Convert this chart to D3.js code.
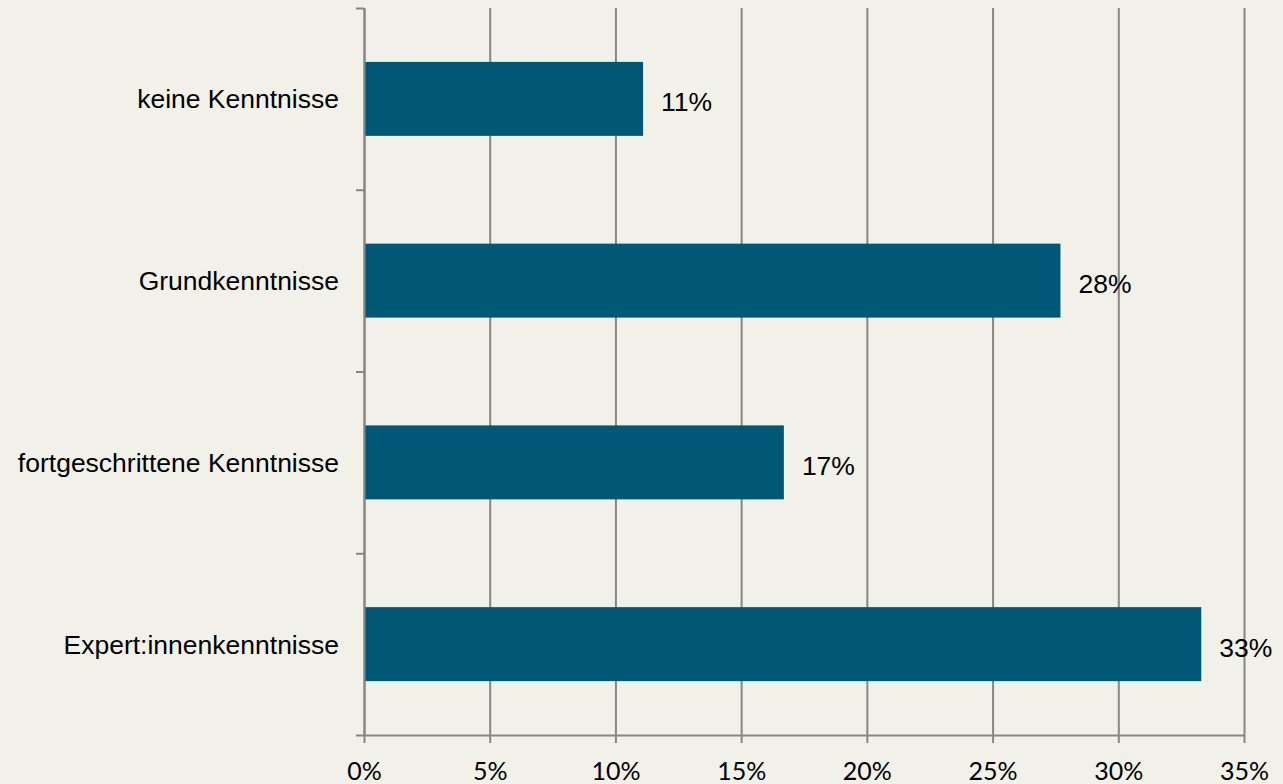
<!DOCTYPE html>
<html>
<head>
<meta charset="utf-8">
<script src="https://cdn.jsdelivr.net/npm/d3@7"></script>
<style>
  html, body { margin: 0; padding: 0; background: #f1f1e9; }
  svg { display: block; }
</style>
</head>
<body>
<div id="chart"></div>
<script>
// Kenntnisse - horizontal bar chart

var categories = ["keine Kenntnisse", "Grundkenntnisse", "fortgeschrittene Kenntnisse", "Expert:innenkenntnisse"];
var values = [11.1, 27.7, 16.7, 33.3];
var tickValues = [0, 5, 10, 15, 20, 25, 30, 35];

var svgWidth = 1283;
var svgHeight = 784;

var plot = { left: 364, right: 1244, top: 8, bottom: 735 };

var svg = d3.select("#chart")
  .append("svg")
  .attr("width", svgWidth)
  .attr("height", svgHeight);

svg.append("rect")
  .attr("width", svgWidth)
  .attr("height", svgHeight)
  .attr("fill", "#f1f1e9");

var xScale = d3.scaleLinear()
  .domain([0, 35])
  .range([plot.left, plot.right]);

var yScale = d3.scaleBand()
  .domain(categories)
  .range([plot.top, plot.bottom])
  .paddingInner(0.593)
  .paddingOuter(0.2965);

// category boundaries for the tick marks on the left axis
var yEdge = d3.scaleLinear()
  .domain([0, categories.length])
  .range([plot.top, plot.bottom]);

var gridColor = "#868686";

// vertical gridlines
var grid = svg.append("g")
  .attr("transform", `translate(0, ${plot.bottom})`)
  .call(d3.axisBottom(xScale).tickValues(tickValues).tickSize(-(plot.bottom - plot.top)).tickFormat(""));
grid.select(".domain").remove();
grid.selectAll("line").attr("stroke", gridColor).attr("stroke-width", 2);

// bars
svg.append("g")
  .selectAll("rect")
  .data(values)
  .enter()
  .append("rect")
  .attr("x", xScale(0) + 1)
  .attr("y", function(d, i) { return yScale(categories[i]); })
  .attr("width", function(d) { return xScale(d) - xScale(0) - 1; })
  .attr("height", yScale.bandwidth())
  .attr("fill", "#015876");

// x axis
var xAxis = svg.append("g")
  .attr("transform", `translate(0, ${plot.bottom})`)
  .call(d3.axisBottom(xScale).tickValues(tickValues).tickSize(8).tickSizeOuter(0)
    .tickFormat(function(d) { return d + "%"; }));
xAxis.select(".domain").attr("stroke", gridColor).attr("stroke-width", 2);
xAxis.selectAll("line").attr("stroke", gridColor).attr("stroke-width", 2);
xAxis.selectAll("text")
  .attr("y", 45)
  .attr("dy", null)
  .attr("fill", "#000")
  .attr("font-family", "Lato, 'Open Sans', sans-serif")
  .attr("font-size", "25px");

// y axis (ticks between categories)
var yAxis = svg.append("g")
  .attr("transform", `translate(${plot.left}, 0)`)
  .call(d3.axisLeft(yEdge).ticks(categories.length).tickSize(8).tickSizeOuter(0).tickFormat(""));
yAxis.select(".domain").attr("stroke", gridColor).attr("stroke-width", 2);
yAxis.selectAll("line").attr("stroke", gridColor).attr("stroke-width", 2);

// category labels
svg.append("g")
  .selectAll("text")
  .data(categories)
  .enter()
  .append("text")
  .attr("x", plot.left - 25)
  .attr("y", function(d) { return yScale(d) + yScale.bandwidth() / 2 + 9.5; })
  .attr("text-anchor", "end")
  .attr("font-family", "'Liberation Sans', Arial, sans-serif")
  .attr("font-size", "26.5px")
  .attr("fill", "#000")
  .text(function(d) { return d; });

// value labels
svg.append("g")
  .selectAll("text")
  .data(values)
  .enter()
  .append("text")
  .attr("x", function(d) { return xScale(d) + 18; })
  .attr("y", function(d, i) { return yScale(categories[i]) + yScale.bandwidth() / 2 + 12.5; })
  .attr("font-family", "'Liberation Sans', Arial, sans-serif")
  .attr("font-size", "26.5px")
  .attr("fill", "#000")
  .text(function(d) { return Math.round(d) + "%"; });
</script>
</body>
</html>
